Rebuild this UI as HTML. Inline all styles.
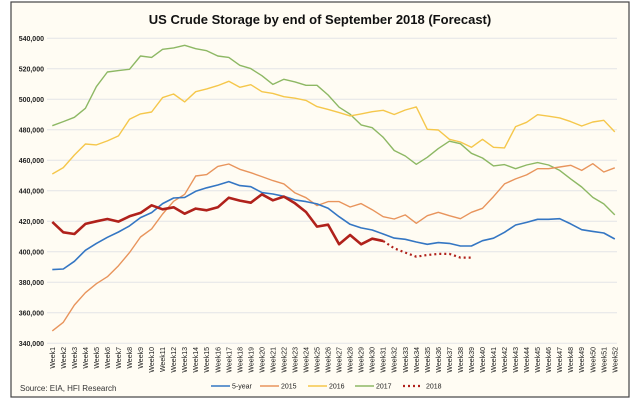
<!DOCTYPE html>
<html><head><meta charset="utf-8"><style>
body{margin:0;background:#fff;}
svg{display:block;font-family:"Liberation Sans",sans-serif;}
</style></head><body>
<svg id="chart" width="640" height="409" viewBox="0 0 640 409">
<rect x="11" y="2" width="618" height="395" fill="#fffcf3" stroke="#444" stroke-width="1.2"/>
<text x="320" y="24" text-anchor="middle" font-size="13" font-weight="bold" fill="#111">US Crude Storage by end of September 2018 (Forecast)</text>
<g id="grid"></g><g id="yaxis"></g><g id="xaxis"></g><g id="series"></g>
<text x="20" y="391" font-size="8" fill="#333">Source: EIA, HFI Research</text>
<g id="legend"></g>
</svg>
<script>
const weeks = Array.from({length:52},(_,i)=>'Week'+(i+1));
const yTicks = [340,360,380,400,420,440,460,480,500,520,540];
const fiveYear = [388.3,388.7,393.8,401,405.5,409.5,413,417,422.4,425.7,431.6,435.3,435.7,439.7,442,443.8,446,443.4,442.7,438.8,437.9,436.4,434,432.9,431.4,428.5,423,418,415.7,414.3,411.7,409,408.2,406.4,404.9,406,405.5,403.8,403.8,407.3,408.9,412.8,417.6,419.3,421.3,421.3,421.7,418.3,414.5,413.4,412.3,408.4];
const y2015 = [348.1,353.8,365.1,373.2,379.1,383.7,390.9,399.5,409.7,415,424.8,433.1,437.7,449.7,450.6,456,457.6,454.1,451.9,449.3,446.7,444.5,438.6,435.5,430.3,432.9,432.9,429.4,431.6,427.6,423,421.5,424.2,418.7,423.7,425.9,423.7,421.7,425.9,428.5,436.2,444.5,447.8,450.4,454.5,454.5,455.6,456.7,453.4,457.8,452.3,455.1];
const y2016 = [451,455.2,463.5,470.7,470.1,472.7,476,486.9,490.4,491.7,501.1,503.5,498.3,505,506.8,509,511.8,507.9,509.6,505,503.9,501.7,500.7,499.3,495.2,493.4,491.3,489.1,490.4,491.9,492.8,490,493,495,480.3,479.9,473.8,472,468.5,473.8,468.5,468.1,482.1,484.9,489.9,488.9,487.8,485.4,482.5,485.1,486.2,478.6];
const y2017 = [482.7,485.4,488.2,494.1,508.3,517.9,518.8,519.7,528.4,527.5,532.8,533.7,535.4,533.2,531.9,528.4,527.5,522.3,520.1,515.5,509.8,513.1,511.4,509.2,509.2,502.8,494.8,490.2,483.2,481.4,475.1,466.4,462.8,457.4,462,467.7,472.5,470.9,464.6,461.5,456.3,457.2,454.5,456.9,458.5,456.9,453.4,447.8,442.5,435.7,431.4,424.2];
const y2018 = [419.6,412.8,411.7,418.3,420,421.5,419.8,423.3,425.5,430.5,427.9,429.2,425,428.3,427.2,429.2,435.5,433.6,432.2,437.7,433.8,436.2,431.8,426.1,416.5,417.8,404.9,411,404.9,408.6,407.1];
const y2018fc = [407.1,402.3,399.5,396.8,397.9,398.6,398.6,396.2,396.2];

const NS='http://www.w3.org/2000/svg';
const X0=52.3, DX=11.03, Y0=38.3, PY=1.525;
const xS=i=>X0+i*DX;
const yS=v=>Y0+(540-v)*PY;
function mk(tag,attrs,parent){const e=document.createElementNS(NS,tag);for(const k in attrs)e.setAttribute(k,attrs[k]);parent.appendChild(e);return e;}
const grid=document.getElementById('grid'),yax=document.getElementById('yaxis'),xax=document.getElementById('xaxis'),ser=document.getElementById('series'),leg=document.getElementById('legend');
yTicks.forEach(t=>{
  const l=mk('line',{x1:47,x2:617,y1:yS(t),y2:yS(t),stroke:'#e3e3e8','stroke-width':1},grid);
  
  
  const tx=mk('text',{x:44,y:yS(t)+2.5,'text-anchor':'end','font-size':7,'font-weight':'bold',fill:'#222'},yax);
  tx.textContent=t+',000';
  
  
});
weeks.forEach((w,i)=>{
  const tx=mk('text',{transform:`translate(${xS(i)+2.5},347) rotate(-90)`,'text-anchor':'end','font-size':7,fill:'#222'},xax);
  tx.textContent=w;
  
  
});
function line(data,off,color,w,name,dash){
  const pts=data.map((v,i)=>xS(i+off).toFixed(1)+','+yS(v).toFixed(1)).join(' ');
  const p=mk('polyline',{points:pts,fill:'none',stroke:color,'stroke-width':w,'stroke-linejoin':'round'},ser);
  if(dash){p.setAttribute('stroke-dasharray',dash);}
  
  
}
line(y2017,0,'#8db864',1.4,'series-2017');
line(y2016,0,'#f5c74b',1.4,'series-2016');
line(y2015,0,'#e8945c',1.4,'series-2015');
line(fiveYear,0,'#3476c3',1.6,'series-5-year');
line(y2018,0,'#b0211b',2.6,'series-2018');
line(y2018fc,30,'#b0211b',2.2,'series-2018-forecast','2 3');
const items=[['5-year','#3476c3',211],['2015','#e8945c',260],['2016','#f5c74b',308],['2017','#8db864',355],['2018','#b0211b',403]];
items.forEach(([n,c,x],k)=>{
  const l=mk('line',{x1:x,x2:x+19,y1:386,y2:386,stroke:c,'stroke-width':k==4?2.2:1.6},leg);
  if(k==4)l.setAttribute('stroke-dasharray','2 3');
  
  
  const t=mk('text',{x:x+(k==4?23:21),y:388.5,'font-size':7,fill:'#222'},leg);
  t.textContent=n;
  
  
});
</script>
</body></html>
